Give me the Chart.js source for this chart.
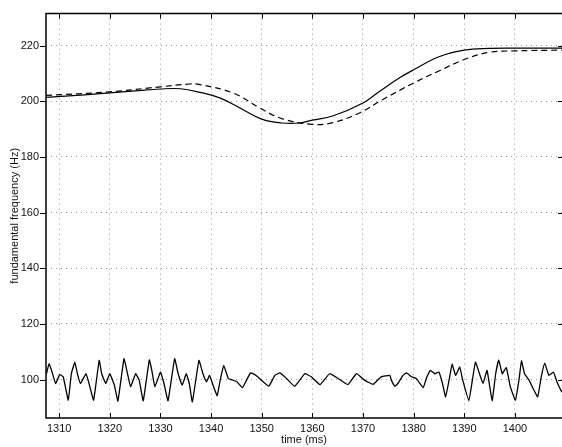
<!DOCTYPE html>
<html>
<head>
<meta charset="utf-8">
<script src="https://cdn.jsdelivr.net/npm/chart.js@4/dist/chart.umd.min.js"></script>
<style>
html,body{margin:0;padding:0;background:#fff;}
</style>
</head>
<body>
<canvas id="grafico" width="562" height="447"></canvas>
<script>
// curva continua (f0 estimada)
const tiempoLinea = [1307.4,1315,1320,1325,1330,1334,1337.8,1341.7,1345.7,1350,1354,1357.5,1360,1364,1370,1373.3,1377.3,1380,1385,1390,1395,1400,1409.3];
const f0Linea = [201.4,202.3,203,203.7,204.4,204.5,203.2,201.2,197.6,193.6,192.2,192.2,193.2,194.7,199.4,203.6,208.5,211.3,216,218.4,219,219.1,219.1];

// curva discontinua
const tiempoGuion = [1307.4,1320,1330,1335.8,1337.8,1344.3,1349.6,1354.1,1360,1364,1369.3,1373.3,1377.3,1380,1385,1390,1395,1400,1409.3];
const f0Guion = [202.1,203.4,205.2,206.2,206,203,197.6,193.7,191.7,192.3,195.8,200,204,206.6,210.9,215,217.6,218.1,218.4];

// senal de abajo
const tiempoRuido = [1307.5,1308,1308.5,1309.3,1310.1,1310.8,1311.8,1312.4,1313.1,1313.6,1314.2,1315.3,1315.9,1316.8,1317.9,1318.4,1319.2,1320,1320.9,1321.6,1322.8,1323.5,1324.1,1325.1,1325.8,1326.6,1327.8,1328.3,1328.9,1330,1330.7,1331.5,1332.8,1333.5,1334.3,1335.1,1335.7,1336.3,1337.6,1338.4,1339.1,1339.7,1340.5,1341.2,1341.8,1342.5,1343.4,1344.3,1345.1,1346.2,1347,1347.8,1348.9,1350.3,1351.4,1352.6,1353.6,1354.9,1356.5,1358.5,1359.8,1361.5,1363.4,1365.1,1367,1368.7,1370.3,1372,1373.6,1375.3,1375.6,1376.3,1376.9,1377.9,1378.6,1379.6,1380.5,1381.9,1382.5,1383.3,1384.2,1385,1385.7,1386.3,1387,1387.6,1388.3,1389.1,1389.7,1390.9,1391.6,1392.2,1392.9,1393.7,1394.5,1395.5,1396.2,1396.8,1397.5,1398.3,1399.1,1400.1,1400.8,1401.3,1401.9,1402.8,1403.6,1404.5,1405.2,1405.9,1406.7,1407.6,1408.3,1408.9,1409.3];
const f0Ruido = [102.1,105.7,103.3,98.6,101.8,101,92.6,102.1,106.3,102.1,98.6,102.1,98.6,92.6,106.9,102.1,98.6,102.1,98,92.3,107.5,102.1,97.4,102.1,99.8,92.4,107.1,103.3,97.4,102.7,98.6,92.4,107.5,102.1,98,102.1,98.6,92,106.9,102.1,99.2,101.5,97.4,94.2,99.8,105.1,100.4,99.8,99.2,97.1,99.8,102.4,101.5,99.2,97.6,101.5,102.4,100.4,97.6,102.1,101,98.2,102.1,100.4,98.2,102.1,99.8,98.3,101,101.5,99.8,97.6,98.6,101.5,102.4,101,100.4,97.1,100.4,103.3,102.1,102.7,98.6,93.8,99.8,105.5,101.5,104.5,99.8,92.4,99.8,106.3,102.7,98.6,103.3,92.4,102.1,107.1,102.1,104.3,97.4,92.6,99.8,106.7,102.1,99.8,96.8,93.8,101,105.9,101.5,102.7,99.2,96.8,95.5];

const ticksX = [1310,1320,1330,1340,1350,1360,1370,1380,1390,1400];
const ticksY = [100,120,140,160,180,200,220];

function puntos(xs, ys){
    return xs.map((t, i) => ({x: t, y: ys[i]}));
}

const fuente = {family: 'Arial, "Liberation Sans", sans-serif', size: 11};

// marco y marcas de los ejes estilo matlab
const ejes = {
    id: 'ejes',
    afterDatasetsDraw(chart){
        const {ctx, chartArea, scales} = chart;
        const {left, right, top, bottom} = chartArea;
        ctx.save();
        ctx.strokeStyle = '#000';
        ctx.lineWidth = 1.5;
        ctx.beginPath();
        ctx.moveTo(right + 2, top);
        ctx.lineTo(left, top);
        ctx.lineTo(left, bottom);
        ctx.lineTo(right + 2, bottom);
        ctx.stroke();
        ctx.lineWidth = 1;
        ctx.beginPath();
        ticksX.forEach(v => {
            const px = Math.round(scales.x.getPixelForValue(v)) + 0.5;
            ctx.moveTo(px, bottom); ctx.lineTo(px, bottom - 5);
            ctx.moveTo(px, top); ctx.lineTo(px, top + 5);
        });
        ticksY.forEach(v => {
            const py = Math.round(scales.y.getPixelForValue(v)) + 0.5;
            ctx.moveTo(left - 6, py); ctx.lineTo(left, py);
            ctx.moveTo(right - 4, py); ctx.lineTo(right, py);
        });
        ctx.stroke();
        ctx.restore();
    }
};

new Chart(document.getElementById('grafico'), {
    type: 'line',
    data: {
        datasets: [
            {data: puntos(tiempoLinea, f0Linea), borderColor: '#000', borderWidth: 1.2, pointRadius: 0, tension: 0.4},
            {data: puntos(tiempoGuion, f0Guion), borderColor: '#000', borderWidth: 1.2, borderDash: [6, 4], pointRadius: 0, tension: 0.4},
            {data: puntos(tiempoRuido, f0Ruido), borderColor: '#000', borderWidth: 1.3, pointRadius: 0, tension: 0.1}
        ]
    },
    options: {
        responsive: false,
        animation: false,
        events: [],
        layout: {padding: {top: 10, left: 0, right: 0, bottom: 0}},
        plugins: {legend: {display: false}, tooltip: {enabled: false}},
        scales: {
            x: {
                type: 'linear',
                min: 1307.4,
                max: 1409.3,
                afterBuildTicks: s => { s.ticks = ticksX.map(v => ({value: v})); },
                afterFit: s => { s.height = 29; },
                grid: {color: 'rgba(0,0,0,0.4)', lineWidth: 1, drawTicks: false},
                border: {display: false, dash: [1, 4]},
                ticks: {font: fuente, color: '#111', padding: 4, maxRotation: 0, autoSkip: false, callback: v => String(v)},
                title: {display: true, text: 'time (ms)', font: fuente, color: '#111', padding: {top: 0, bottom: 0}}
            },
            y: {
                type: 'linear',
                min: 86.2,
                max: 231.5,
                afterBuildTicks: s => { s.ticks = ticksY.map(v => ({value: v})); },
                afterFit: s => { s.width = 46; },
                grid: {color: 'rgba(0,0,0,0.4)', lineWidth: 1, drawTicks: false},
                border: {display: false, dash: [1, 4]},
                ticks: {font: fuente, color: '#111', padding: 7, autoSkip: false, callback: v => String(v)},
                title: {display: true, text: 'fundamental frequency (Hz)', font: fuente, color: '#111', padding: {top: 8, bottom: 0}}
            }
        }
    },
    plugins: [ejes]
});
</script>
</body>
</html>
